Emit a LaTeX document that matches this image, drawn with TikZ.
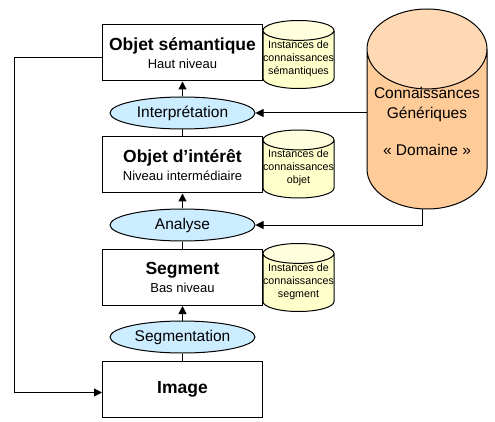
\documentclass[tikz,border=0pt]{standalone}
\usepackage{fontspec}
\setmainfont{Liberation Sans}
\usepackage{tikz}
\usetikzlibrary{shapes.geometric, positioning, arrows.meta, calc}
\definecolor{paleblue}{RGB}{204,236,255}
\definecolor{paleyellow}{RGB}{255,255,204}
\definecolor{paleyellowlid}{RGB}{255,255,222}
\definecolor{pastelorange}{RGB}{255,204,153}
\definecolor{pastelorangelid}{RGB}{255,217,180}
\newcommand{\niveau}[2]{{\bfseries\fontsize{17.5}{19}\selectfont #1}\\[4pt]#2}

\begin{document}
\begin{tikzpicture}[x=1pt, y=-1pt, line width=1pt,
	level/.style={draw, fill=white, minimum width=160pt, minimum height=56pt, inner sep=0pt, align=center, font=\fontsize{13}{14}\selectfont},
	process/.style={ellipse, draw, fill=paleblue, minimum width=145pt, minimum height=32pt, inner sep=0pt, font=\fontsize{15.5}{17}\selectfont},
	instance/.style={cylinder, shape border rotate=90, anchor=shape center, draw, aspect=0.28, cylinder uses custom fill, cylinder body fill=paleyellow, cylinder end fill=paleyellowlid, minimum width=71pt, minimum height=68pt, inner sep=0pt},
	instancetext/.style={yshift=1pt, align=center, font=\fontsize{10.7}{13}\selectfont},
	tip/.style={-{Triangle[length=8pt, width=8pt]}}]
	\useasboundingbox (0,0) rectangle (495,422);
	\pgfmathsetmacro{\colx}{182.5}
	\pgfmathsetmacro{\cylx}{298.5}
	
	\node[level] (sem) at (\colx,53) {\niveau{Objet sémantique}{Haut niveau}};
	\node[process] (interp) at (\colx,113) {Interprétation};
	\node[level] (int) at (\colx,165) {\niveau{Objet d’intérêt}{Niveau intermédiaire}};
	\node[process] (ana) at (\colx,225) {Analyse};
	\node[level] (seg) at (\colx,277.5) {\niveau{Segment}{Bas niveau}};
	\node[process] (segm) at (\colx,337) {Segmentation};
	\node[level, font=\bfseries\fontsize{17.5}{19}\selectfont] (img) at (\colx,389.5) {Image};
	
	\node[instance, label={[instancetext]center:{Instances de\\connaissances\\sémantiques}}] (instsem) at (\cylx,54.5) {\hspace*{71pt}};
	\node[instance, label={[instancetext]center:{Instances de\\connaissances\\objet}}] (instint) at (\cylx,164) {\hspace*{71pt}};
	\node[instance, label={[instancetext]center:{Instances de\\connaissances\\segment}}] (instseg) at (\cylx,277.5) {\hspace*{71pt}};
	
	\node[cylinder, shape border rotate=90, anchor=shape center, draw, aspect=0.74, cylinder uses custom fill, cylinder body fill=pastelorange, cylinder end fill=pastelorangelid, minimum width=120pt, minimum height=200pt, inner sep=0pt,
		label={[yshift=8pt, align=center, font=\fontsize{15.5}{20}\selectfont]center:{Connaissances\\Génériques\\[17pt]« Domaine »}}] (gen) at (427,109) {\hspace*{108pt}};
	
	\draw[tip] (interp) -- (sem);
	\draw (int) -- (interp);
	\draw[tip] (ana) -- (int);
	\draw (seg) -- (ana);
	\draw[tip] (segm) -- (seg);
	\draw (img) -- (segm);
	
	\draw[tip] (gen.west |- interp) -- (interp);
	\draw[tip] ([xshift=-5pt]gen.south) |- (ana);
	\draw[tip] ([yshift=-5pt]sem.west) -- ++(-88,0) |- ([yshift=-3pt]img.west);
\end{tikzpicture}
\end{document}
